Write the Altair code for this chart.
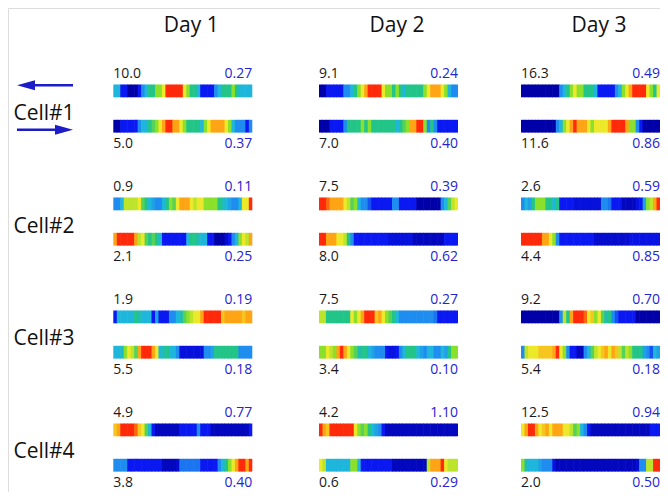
import altair as alt
import pandas as pd

# ---------------- data ----------------
days = ["Day 1", "Day 2", "Day 3"]
cells = ["Cell#1", "Cell#2", "Cell#3", "Cell#4"]

# black (left) and blue (right) numbers: [cell][day]
black_top = [[10.0, 9.1, 16.3], [0.9, 7.5, 2.6], [1.9, 7.5, 9.2], [4.9, 4.2, 12.5]]
black_bottom = [[5.0, 7.0, 11.6], [2.1, 8.0, 4.4], [5.5, 3.4, 5.4], [3.8, 0.6, 2.0]]
blue_top = [[0.27, 0.24, 0.49], [0.11, 0.39, 0.59], [0.19, 0.27, 0.70], [0.77, 1.10, 0.94]]
blue_bottom = [[0.37, 0.40, 0.86], [0.25, 0.62, 0.85], [0.18, 0.10, 0.18], [0.40, 0.29, 0.50]]

# strip intensity levels (0 = dark blue ... 8 = red), 40 bins per strip, [day1, day2, day3]
cell1_top = [
    [3, 3, 1, 1, 0, 0, 0, 1, 2, 3, 4, 4, 5, 5, 6, 8, 8, 8, 8, 8, 6, 5, 4, 4, 3, 1, 1, 1, 1, 2, 3, 4, 4, 4, 5, 4, 3, 3, 3, 3],
    [0, 0, 1, 1, 1, 1, 1, 2, 2, 3, 4, 5, 6, 7, 8, 8, 8, 8, 6, 5, 5, 4, 5, 4, 3, 4, 4, 4, 4, 4, 5, 6, 7, 7, 7, 6, 5, 3, 2, 2],
    [0, 0, 0, 0, 0, 0, 0, 0, 0, 0, 0, 2, 3, 4, 5, 6, 5, 5, 4, 4, 4, 3, 1, 1, 1, 1, 1, 2, 3, 5, 6, 7, 8, 8, 8, 8, 6, 5, 4, 6],
]
cell1_bottom = [
    [0, 0, 1, 1, 1, 1, 1, 2, 3, 3, 4, 4.5, 5, 6, 7, 8, 8, 7, 7, 6, 5, 4, 4, 4, 4, 3, 5, 6, 7, 7, 7, 7, 6, 5, 3, 2, 2, 2, 1, 2],
    [0, 0, 0, 1, 1, 1, 1, 2, 4, 4, 4, 4, 5, 4, 5, 4, 4, 4, 4, 4, 4, 4, 3, 4, 4.5, 5, 7, 7, 8, 8, 5, 2, 4, 2, 1, 1, 1, 1, 1, 1],
    [0, 0, 0, 0, 0, 0, 0, 0, 0, 0, 2, 3, 5, 6, 7, 8, 7, 7, 7, 6, 5, 6, 6, 6, 6, 7, 8, 8, 8, 8, 7, 5, 5, 2, 1, 0, 0, 0, 0, 0],
]
cell2_top = [
    [2, 2, 3, 5.5, 5.5, 5.5, 5.5, 6, 4.5, 4, 3, 2.5, 2, 2, 3, 4, 5, 4.5, 6, 7, 7, 7, 6, 5.5, 6, 6, 5, 5, 5, 5, 4, 3.5, 3, 2.5, 2, 2, 3, 6, 6, 8],
    [8, 8, 7.5, 7, 7, 7, 7, 6, 5.5, 4.5, 5, 3, 2, 2, 1.5, 1, 1, 1, 1, 1, 1, 2, 2, 1, 1, 1, 1, 1, 0, 0, 0, 0, 0, 0, 0, 2, 3, 4.5, 5.5, 6],
    [2, 3, 2.5, 4, 5, 5, 5, 4, 4, 3, 4, 1, 1, 1, 1, 0.7, 0.7, 0.7, 0.7, 0.7, 0.7, 0.7, 0.7, 2, 2, 1.8, 1, 1, 1, 0.3, 0.3, 0.3, 0.3, 0.8, 1, 2.5, 5, 5.5, 7, 8],
]
cell2_bottom = [
    [7, 8, 8, 8, 8, 8, 7, 5.5, 6, 4.5, 4, 4.5, 4, 3, 1, 1, 1, 1, 1, 1, 1, 3, 4, 4, 3.5, 3, 3, 1, 1, 0, 0, 0, 0.5, 1, 2, 3, 5, 6, 5.5, 7],
    [8, 8, 7, 7, 7, 6, 6, 5.5, 4, 2, 1, 1, 1, 1, 1, 1, 1, 1, 1, 1, 0.7, 0.7, 0.7, 0.7, 0.7, 0.7, 0.7, 0.3, 0.3, 0.3, 0.3, 0.3, 0.3, 0.3, 0.3, 0.3, 1, 1, 1, 1],
    [8, 8, 8, 8, 8, 8, 7, 7, 6, 5, 2, 1, 1, 1, 1, 1, 1, 1, 1, 1, 1, 0.5, 0.5, 0.5, 0.5, 0.5, 0.5, 0.5, 0.5, 0.5, 0.5, 0.8, 0.8, 0.8, 0.8, 0.8, 0.8, 0.8, 0.8, 0.8],
]
cell3_top = [
    [1, 3, 3, 3, 3, 3, 4, 3.5, 3, 3, 3, 1, 2.5, 1, 1, 1, 2, 2, 3, 3.5, 4.5, 5, 5.5, 6, 6, 7, 8, 8, 8, 8, 8, 6.5, 7, 7, 7, 7, 7, 6.5, 7, 7],
    [5.5, 5.5, 4, 4, 4, 4, 4, 4, 4, 6, 5, 6, 7, 8, 8, 8, 6.5, 7, 6, 5, 4.5, 4, 3, 2, 2, 2, 2, 2, 2, 2, 2, 2, 2, 1.8, 1, 1, 1, 1, 1, 1],
    [0, 0, 0, 0, 0, 0, 0, 0, 0, 0, 0, 2, 5.5, 4, 7, 8, 8, 8, 7.5, 6, 6.5, 5, 6, 4.5, 3.5, 4, 2, 1.5, 1, 1, 1, 1, 1, 0, 0, 0, 0, 0, 0, 0],
]
cell3_bottom = [
    [3, 3, 3.3, 5, 6, 5.5, 4.5, 7, 8, 8, 8, 7, 6, 3, 3.5, 4, 3, 3, 2, 0.7, 0.7, 0.7, 0.7, 0.7, 0.7, 0.7, 2, 2, 2.5, 4, 4, 4, 4, 4, 4, 4, 2, 2, 2, 2],
    [5, 5, 6, 5.5, 5, 7, 8, 7, 6, 5, 4.5, 3.5, 4, 4, 3, 2.5, 2, 2, 2, 1, 0.8, 0.8, 1, 2, 3, 4, 4, 4, 3, 2.5, 2, 3, 3, 2, 2, 3, 2.5, 4, 5, 5],
    [2, 5.5, 6, 6, 6, 6.5, 6.5, 6.5, 6.5, 7, 8, 6, 5, 2, 1, 1, 0.3, 0.3, 2, 3, 4.5, 5.5, 6, 6.5, 7, 6, 7, 6.5, 5.5, 4.5, 5.5, 5, 4, 4, 4, 2.5, 2, 1.5, 3, 2.5],
]
cell4_top = [
    [6.5, 7, 8, 8, 8, 8, 7.5, 6.5, 6, 4.5, 3, 1, 0.3, 0.3, 0.3, 0.3, 0.3, 0.3, 0.3, 1, 1, 1, 1, 1, 2, 1, 1, 1, 0.3, 0.3, 0.3, 0.3, 0.3, 0.3, 0.3, 0.3, 0.3, 0.3, 0.3, 1],
    [8, 7, 6.5, 8, 8, 8, 8, 8, 8, 8, 6, 5, 4.5, 5, 4, 3, 2.5, 2, 1, 0.3, 0.3, 0.3, 0.3, 0.3, 0.3, 0.3, 0.3, 0.3, 0.3, 0.3, 0.3, 0.3, 0.3, 0.3, 0.3, 0.3, 0.3, 0.3, 0.3, 0.3],
    [6, 7, 8, 8, 7, 6, 6.5, 7, 6, 7, 7, 7, 6, 6, 5.5, 4.5, 5, 3, 2, 1, 0.3, 0.3, 0.3, 0.3, 0.3, 0.3, 0.3, 0.3, 0.3, 0.3, 0.3, 0.3, 0.3, 0.3, 0.3, 0.3, 0.3, 1, 1, 1],
]
cell4_bottom = [
    [2, 2, 2, 2, 1, 1, 1, 1, 1, 1, 1, 1, 1, 1, 0.3, 0.3, 0.3, 0.3, 0.5, 1.8, 1.8, 1.8, 1.8, 1.8, 1.8, 1, 1, 1, 1, 1, 2, 3, 4, 5, 6, 7, 8, 8, 7, 8],
    [6, 5.5, 3, 3, 3, 3, 3, 3, 3, 5, 5, 3, 1, 1, 1, 1, 1, 1, 1, 1, 1, 0.3, 0.3, 0.3, 0.3, 0.3, 0.3, 0.3, 0.3, 0.3, 0.3, 5.5, 7, 7, 7, 8, 6, 5.5, 5.5, 5.5],
    [5, 3.5, 3, 3, 3, 2.5, 2, 2, 2, 0.8, 0.3, 0.3, 0.3, 0.3, 0.3, 0.3, 0.3, 0.3, 0.3, 0.3, 0.3, 0.3, 0.3, 0.3, 0.3, 0.3, 0.3, 0.3, 0.3, 0.3, 0.3, 0.3, 0.3, 0.6, 2, 2, 5.5, 5.5, 8, 8],
]
strips_top = [cell1_top, cell2_top, cell3_top, cell4_top]
strips_bottom = [cell1_bottom, cell2_bottom, cell3_bottom, cell4_bottom]

# jet-like colour levels
level_domain = [0, 1, 2, 3, 4, 5, 6, 7, 8]
level_colors = ["#0000a8", "#0a18f2", "#1f8cf0", "#1fb6dc", "#22c488",
                "#8ae02a", "#ece82a", "#ffa414", "#ff2a0a"]

# ---------------- layout (page pixels) ----------------
# (the page only shows x 8..660 / y 8..492, so the right column and the
#  rows are nudged slightly to keep everything inside)
STRIP_LEFT = [113.3, 319.0, 521.0]
STRIP_W = 139.0
STRIP_H = 12.8
DY = -3.0
TOP_Y0 = 87.5 + DY   # top strip of Cell#1
PAIR_GAP = 35.3      # top strip -> bottom strip
ROW_STEP = 113.0
OVERLAP = 0.6        # hides anti-aliasing seams between neighbouring bins
BLUE = "#2424d2"
ARROW = "#1c1cc8"
FONT = "Open Sans"

rect_rows = []
label_rows = []
for r in range(len(cells)):
    for d in range(len(days)):
        for strand, strips, blk, blu in (("top", strips_top, black_top, blue_top),
                                         ("bottom", strips_bottom, black_bottom, blue_bottom)):
            y0 = TOP_Y0 + ROW_STEP * r + (PAIR_GAP if strand == "bottom" else 0)
            vals = strips[r][d]
            cw = STRIP_W / len(vals)
            right = STRIP_LEFT[d] + STRIP_W
            for i, v in enumerate(vals):
                x0 = STRIP_LEFT[d] + i * cw
                rect_rows.append(dict(x=x0, x2=min(x0 + cw + OVERLAP, right),
                                      y=y0, y2=y0 + STRIP_H, level=v))
            ly = y0 - 6.5 if strand == "top" else y0 + STRIP_H + 15.5
            label_rows.append(dict(x=STRIP_LEFT[d], xr=right, y=ly,
                                   black=blk[r][d], blue=blu[r][d]))

rects = pd.DataFrame(rect_rows)
labels = pd.DataFrame(label_rows)
day_df = pd.DataFrame(dict(day=days, x=[s + STRIP_W / 2 + 8.5 for s in STRIP_LEFT], y=[31.5] * 3))
cell_df = pd.DataFrame(dict(cell=cells, x=[44.0] * 4, y=[123.3 + DY + 112.5 * k for k in range(4)]))

# arrows beside Cell#1 (top: pointing left, bottom: pointing right)
arrow_lines = pd.DataFrame(dict(x=[30.0, 17.0], x2=[73.0, 60.0], y=[88.3 + DY, 132.7 + DY]))
arrow_left = pd.DataFrame(dict(x=[26.0], y=[88.3 + DY]))
arrow_right = pd.DataFrame(dict(x=[64.0], y=[132.7 + DY]))

# plot area spans page x 8..660, y 8..492
W, H = 652, 484
xs = alt.Scale(domain=[8, 8 + W], nice=False, zero=False)
ys = alt.Scale(domain=[8, 8 + H], nice=False, zero=False, reverse=True)
cs = alt.Scale(domain=level_domain, range=level_colors, interpolate="rgb")

X = lambda f: alt.X(f, scale=xs, axis=None)
Y = lambda f: alt.Y(f, scale=ys, axis=None)

strip_layer = alt.Chart(rects).mark_rect(strokeWidth=0).encode(
    x=X("x:Q"), x2="x2:Q", y=Y("y:Q"), y2="y2:Q",
    fill=alt.Fill("level:Q", scale=cs, legend=None),
)

black_layer = alt.Chart(labels).mark_text(
    align="left", baseline="alphabetic", font=FONT, fontSize=14, color="#1a1a1a"
).encode(x=X("x:Q"), y=Y("y:Q"), text=alt.Text("black:Q", format=".1f"))

blue_layer = alt.Chart(labels).mark_text(
    align="right", baseline="alphabetic", font=FONT, fontSize=14, color=BLUE
).encode(x=X("xr:Q"), y=Y("y:Q"), text=alt.Text("blue:Q", format=".2f"))

day_layer = alt.Chart(day_df).mark_text(
    align="center", baseline="alphabetic", font=FONT, fontSize=21, color="#111111"
).encode(x=X("x:Q"), y=Y("y:Q"), text="day:N")

cell_layer = alt.Chart(cell_df).mark_text(
    align="center", baseline="alphabetic", font=FONT, fontSize=21, color="#111111"
).encode(x=X("x:Q"), y=Y("y:Q"), text="cell:N")

line_layer = alt.Chart(arrow_lines).mark_rule(color=ARROW, strokeWidth=2.4).encode(
    x=X("x:Q"), x2="x2:Q", y=Y("y:Q"))

head_l = alt.Chart(arrow_left).mark_point(
    shape="M -1 0 L 1 -0.55 L 1 0.55 Z", size=324, filled=True, color=ARROW, opacity=1, strokeWidth=0
).encode(x=X("x:Q"), y=Y("y:Q"))

head_r = alt.Chart(arrow_right).mark_point(
    shape="M 1 0 L -1 -0.55 L -1 0.55 Z", size=324, filled=True, color=ARROW, opacity=1, strokeWidth=0
).encode(x=X("x:Q"), y=Y("y:Q"))

chart = alt.layer(
    strip_layer, black_layer, blue_layer, day_layer, cell_layer, line_layer, head_l, head_r
).properties(
    width=W, height=H, padding=0, autosize=alt.AutoSizeParams(type="none")
).configure_view(strokeWidth=0).configure(background="white")

chart.save("out.html", embed_options={"renderer": "svg", "actions": False})
